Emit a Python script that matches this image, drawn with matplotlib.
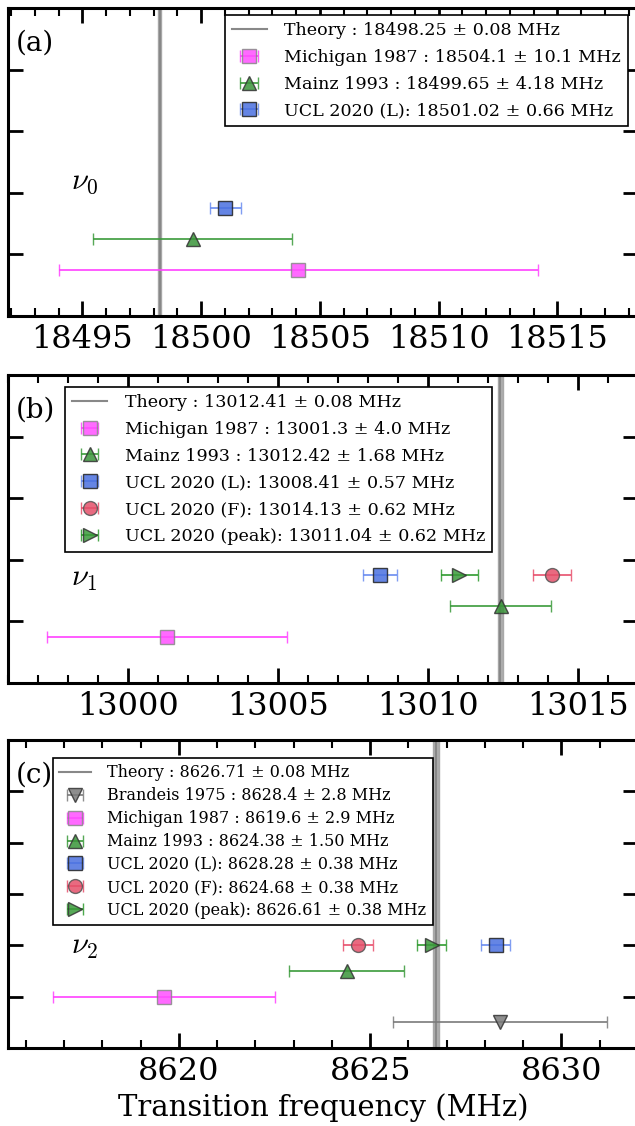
import matplotlib
matplotlib.use("Agg")
import matplotlib.pyplot as plt
from matplotlib.ticker import MultipleLocator

plt.rcParams['font.family'] = ['DejaVu Serif']
plt.rcParams['mathtext.fontset'] = 'cm'

# panel (a) nu0
theory_a = 18498.25
labels_a = ["Michigan 1987 : 18504.1 \u00b1 10.1 MHz",
            "Mainz 1993 : 18499.65 \u00b1 4.18 MHz",
            "UCL 2020 (L): 18501.02 \u00b1 0.66 MHz"]
vals_a = [18504.1, 18499.65, 18501.02]
errs_a = [10.1, 4.18, 0.66]
rows_a = [0.75, 1.25, 1.75]
keys_a = ["mich", "mainz", "ucl_l"]

# panel (b) nu1
theory_b = 13012.41
labels_b = ["Michigan 1987 : 13001.3 \u00b1 4.0 MHz",
            "Mainz 1993 : 13012.42 \u00b1 1.68 MHz",
            "UCL 2020 (L): 13008.41 \u00b1 0.57 MHz",
            "UCL 2020 (F): 13014.13 \u00b1 0.62 MHz",
            "UCL 2020 (peak): 13011.04 \u00b1 0.62 MHz"]
vals_b = [13001.3, 13012.42, 13008.41, 13014.13, 13011.04]
errs_b = [4.0, 1.68, 0.57, 0.62, 0.62]
rows_b = [0.75, 1.25, 1.75, 1.75, 1.75]
keys_b = ["mich", "mainz", "ucl_l", "ucl_f", "ucl_p"]

# panel (c) nu2
theory_c = 8626.71
labels_c = ["Brandeis 1975 : 8628.4 \u00b1 2.8 MHz",
            "Michigan 1987 : 8619.6 \u00b1 2.9 MHz",
            "Mainz 1993 : 8624.38 \u00b1 1.50 MHz",
            "UCL 2020 (L): 8628.28 \u00b1 0.38 MHz",
            "UCL 2020 (F): 8624.68 \u00b1 0.38 MHz",
            "UCL 2020 (peak): 8626.61 \u00b1 0.38 MHz"]
vals_c = [8628.4, 8619.6, 8624.38, 8628.28, 8624.68, 8626.61]
errs_c = [2.8, 2.9, 1.50, 0.38, 0.38, 0.38]
rows_c = [0.5, 1.0, 1.5, 2.0, 2.0, 2.0]
keys_c = ["brand", "mich", "mainz", "ucl_l", "ucl_f", "ucl_p"]

styles = {
    "brand": dict(fmt='v', color='#7a7a7a', mfc='#7a7a7a', mec='#333333'),
    "mich": dict(fmt='s', color='#ff40ff', mfc='#ff50ff', mec='#888888'),
    "mainz": dict(fmt='^', color='#3a9a3a', mfc='#3a943a', mec='#333333'),
    "ucl_l": dict(fmt='s', color='#6a8cf0', mfc='#4a70e0', mec='#222222'),
    "ucl_f": dict(fmt='o', color='#e8506c', mfc='#e5506a', mec='#555555'),
    "ucl_p": dict(fmt='>', color='#2e9a2e', mfc='#3a9a3a', mec='#333333'),
}

fig = plt.figure(figsize=(6.35, 11.26), dpi=100)
W, H = 635.0, 1126.0


def make_axes(top_px, bottom_px):
    return fig.add_axes([8 / W, 1 - bottom_px / H, 630 / W, (bottom_px - top_px) / H])


def draw(ax, theory, labels, vals, errs, rows, keys, xlim, ylim, xticks, tag, nu, nu_y,
         leg_fs, leg_sp, leg_loc, leg_anchor):
    ax.axvspan(theory - 0.08, theory + 0.08, facecolor='#a0a0a0', edgecolor='#a0a0a0',
               lw=1.0, alpha=0.85, zorder=1)
    ax.axvline(theory, color='#888888', lw=1.5, zorder=1,
               label="Theory : %.2f \u00b1 0.08 MHz" % theory)
    for lab, v, e, r, k in zip(labels, vals, errs, rows, keys):
        st = styles[k]
        ax.errorbar(v, r, xerr=e, fmt=st['fmt'], color=st['color'], mfc=st['mfc'],
                    mec=st['mec'], ms=10, mew=1.0, elinewidth=1.4, capsize=4,
                    capthick=1.2, alpha=0.85, label=lab, zorder=3)
    ax.set_xlim(*xlim)
    ax.set_ylim(*ylim)
    ax.set_xticks(xticks)
    ax.xaxis.set_minor_locator(MultipleLocator(1))
    ax.set_yticks(range(1, int(ylim[1])))
    ax.set_yticklabels([])
    ax.tick_params(which='both', direction='in', top=True, right=True)
    ax.tick_params(which='major', length=11, width=2, labelsize=23, pad=6)
    ax.tick_params(which='minor', length=6, width=1.5)
    for sp in ax.spines.values():
        sp.set_linewidth(2.2)
    ax.text(0.012, 0.93, tag, transform=ax.transAxes, fontsize=20, va='top', ha='left')
    ax.text(0.10, nu_y, nu, transform=ax.transAxes, fontsize=22, va='center', ha='left')
    leg = ax.legend(loc=leg_loc, bbox_to_anchor=leg_anchor, fontsize=leg_fs, numpoints=1,
                    fancybox=False, framealpha=1, edgecolor='black', borderpad=0.4,
                    borderaxespad=0, labelspacing=leg_sp, handletextpad=1.0)
    leg.get_frame().set_linewidth(1.2)


ax1 = make_axes(8, 316)
draw(ax1, theory_a, labels_a, vals_a, errs_a, rows_a, keys_a,
     (18491.87, 18518.4), (0, 5), [18495, 18500, 18505, 18510, 18515],
     "(a)", r"$\nu_0$", 0.44, 12.6, 0.56, 'upper right', (0.984, 0.977))

ax2 = make_axes(375, 683)
draw(ax2, theory_b, labels_b, vals_b, errs_b, rows_b, keys_b,
     (12996.0, 13017.0), (0, 5), [13000, 13005, 13010, 13015],
     "(b)", r"$\nu_1$", 0.344, 12.6, 0.56, 'upper left', (0.0905, 0.961))

ax3 = make_axes(740, 1048)
draw(ax3, theory_c, labels_c, vals_c, errs_c, rows_c, keys_c,
     (8615.53, 8632.0), (0, 6), [8620, 8625, 8630],
     "(c)", r"$\nu_2$", 0.334, 11.5, 0.37, 'upper left', (0.0714, 0.9416))
ax3.set_xlabel("Transition frequency (MHz)", fontsize=21, labelpad=4)

fig.savefig("out.png", dpi=100)
